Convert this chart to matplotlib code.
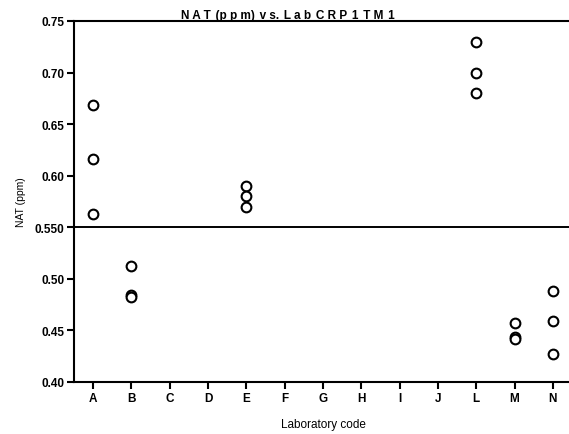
import numpy as np
import matplotlib
matplotlib.use("Agg")
import matplotlib.pyplot as plt

plt.rcParams['font.family'] = ['Liberation Sans', 'DejaVu Sans']

# lab codes on the x axis
labs = ["A", "B", "C", "D", "E", "F", "G", "H", "I", "J", "L", "M", "N"]

# NAT results (ppm) per lab
lab_a = [0.669, 0.616, 0.563]
lab_b = [0.512, 0.484, 0.482]
lab_e = [0.590, 0.580, 0.570]
lab_l = [0.730, 0.700, 0.680]
lab_m = [0.457, 0.444, 0.442]
lab_n = [0.488, 0.459, 0.427]

results = {"A": lab_a, "B": lab_b, "E": lab_e, "L": lab_l, "M": lab_m, "N": lab_n}
ref_value = 0.55

fig = plt.figure(figsize=(5.69, 4.35), dpi=100)
ax = fig.add_axes([74/569, 1 - 383/435, 498/569, 361/435])

for code, vals in results.items():
    x = np.full(len(vals), labs.index(code))
    ax.plot(x, vals, 'o', ms=7, mfc='white', mec='black', mew=1.5, ls='none')

ax.axhline(ref_value, color='black', lw=1.4)

ax.set_xlim(-0.5, len(labs) - 0.5)
ax.set_ylim(0.40, 0.75)
ax.set_xticks(range(len(labs)))
ax.set_xticklabels(labs)
yt = [0.40, 0.45, 0.50, 0.55, 0.60, 0.65, 0.70, 0.75]
ax.set_yticks(yt)
ax.set_yticklabels(["0.40", "0.45", "0.50", "0.550", "0.60", "0.65", "0.70", "0.75"])

for s in ax.spines.values():
    s.set_linewidth(1.5)
ax.spines['right'].set_visible(False)
ax.tick_params(direction='out', length=5, width=1.5, labelsize=8.5, pad=2)
for lbl in ax.get_xticklabels() + ax.get_yticklabels():
    lbl.set_fontweight('bold')

ax.set_ylabel("NAT (ppm)", fontsize=7.5, labelpad=6)
ax.set_xlabel("Laboratory code", fontsize=8.5, labelpad=10)

fig.text(288/569, 1 - 19/435, "N A T  (p p m)  v s.  L a b  C R P  1  T M  1".replace("  ", "\u2009\u2009"),
         ha='center', va='baseline', fontsize=8.5, fontweight='bold')

fig.savefig("out.png", dpi=100)
